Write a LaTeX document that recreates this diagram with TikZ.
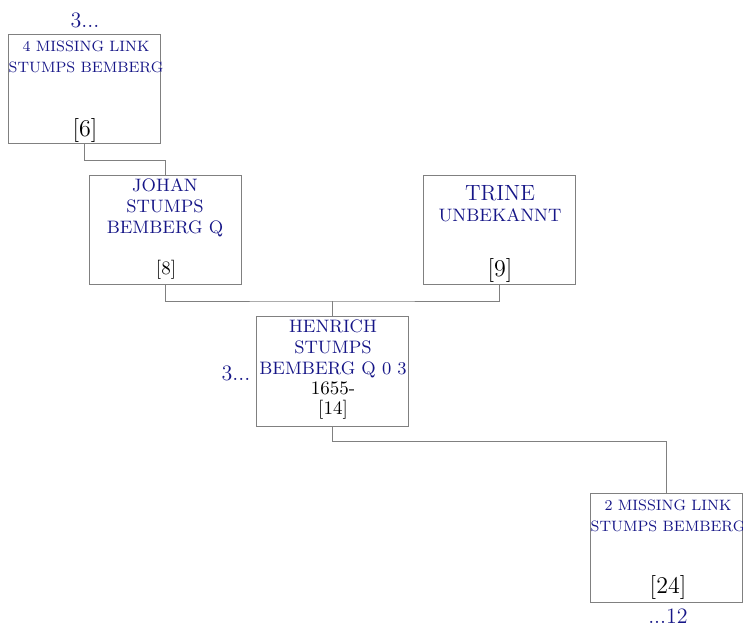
\documentclass[tikz,border=0pt]{standalone}
\usepackage{tikz}
\usetikzlibrary{positioning,calc}
\definecolor{nameblue}{RGB}{22,22,135}
\definecolor{boxgray}{RGB}{128,128,128}

\begin{document}
\begin{tikzpicture}[%
        x=0.5pt, y=-0.5pt,
        person/.style={%
          rectangle,
          draw=boxgray,
          line width=0.5pt,
          minimum width=76pt,
          minimum height=54.5pt,
          inner sep=0pt
        },
        pname/.style={%
          text=nameblue,
          align=center,
          inner sep=0pt,
          font=\fontsize{9}{10.5}\selectfont
        },
        smallname/.style={pname, font=\fontsize{7.5}{10.5}\selectfont},
        num/.style={inner sep=0pt, font=\fontsize{12}{14}\selectfont},
        more/.style={text=nameblue, inner sep=0pt, font=\fontsize{11}{13}\selectfont},
        link/.style={draw=boxgray, line width=0.45pt}
      ]
      \useasboundingbox (0,0) rectangle (743,630);

      % the boxes
      \node[person] (6) at (84,89.5) {};
      \node[person] (8) at (165,230.5) {};
      \node[person] (9) at (499,230.5) {};
      \node[person] (14) at (332,371.5) {};
      \node[person] (24) at (666,547.5) {};

      % texts
      \node[more] (6up) at (85,20) {3...};
      \node[smallname] (6n) at (86,57) {4 MISSING LINK\\STUMPS BEMBERG};
      \node[num] (6k) at (85,131) {[6]};

      \node[pname] (8n) at (165,207.5) {JOHAN\\STUMPS\\BEMBERG Q};
      \node[num, font=\fontsize{9.5}{11}\selectfont] (8k) at (166,270) {[8]};

      \node[pname] (9n) at (500,203.5) {{\fontsize{11}{13}\selectfont TRINE}\\UNBEKANNT};
      \node[num] (9k) at (500,271) {[9]};

      \node[pname] (14n) at (333,349) {HENRICH\\STUMPS\\BEMBERG Q 0 3};
      \node[num, align=center, font=\fontsize{9.5}{10}\selectfont] (14k) at (333,400.5) {1655-\\{}[14]};
      \node[more] (14left) at (236,373) {3...};

      \node[smallname] (24n) at (668,516) {2 MISSING LINK\\STUMPS BEMBERG};
      \node[num] (24k) at (668,587) {[24]};
      \node[more] (24down) at (668,616) {...12};

      % connectors
      \coordinate (mid) at (332,301);
      \draw[link] (6.south) -- ++(0,16) -| (8.north);
      \draw[link] (8.south) |- (mid) -| (9.south);
      \draw[link] (14.north) -- (mid);
      \draw[link] (14.south) -- ++(0,15) -| (24.north);

  \end{tikzpicture}
\end{document}
